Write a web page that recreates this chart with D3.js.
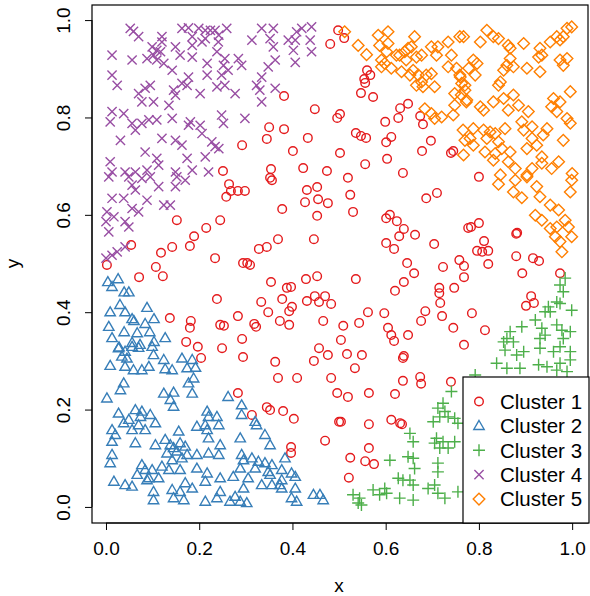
<!DOCTYPE html>
<html>
<head>
<meta charset="utf-8">
<script src="https://cdn.jsdelivr.net/npm/d3@7"></script>
<style>
  body { margin: 0; background: #fff; }
  text { font-family: 'Liberation Sans', Arial, sans-serif; fill: #000; }
</style>
</head>
<body>
<script>
const width = 590
const height = 596

// Datos: [x, y] por cluster
const cluster1 = [[0.498,0.979],[0.481,0.951],[0.382,0.844],[0.448,0.817],[0.502,0.807],[0.496,0.799],[0.350,0.780],[0.382,0.776],[0.345,0.756],[0.433,0.758],
[0.292,0.743],[0.401,0.731],[0.502,0.727],[0.251,0.690],[0.354,0.694],[0.423,0.696],[0.474,0.690],[0.352,0.676],[0.511,0.963],[0.560,0.897],
[0.567,0.887],[0.554,0.879],[0.556,0.871],[0.547,0.850],[0.573,0.842],[0.648,0.828],[0.631,0.819],[0.627,0.799],[0.674,0.803],[0.680,0.786],
[0.599,0.791],[0.536,0.768],[0.547,0.762],[0.558,0.758],[0.612,0.760],[0.601,0.749],[0.697,0.752],[0.678,0.731],[0.740,0.727],[0.745,0.731],
[0.603,0.715],[0.556,0.704],[0.637,0.686],[0.519,0.676],[0.800,0.678],[0.152,0.589],[0.245,0.589],[0.215,0.573],[0.189,0.556],[0.054,0.538],
[0.142,0.534],[0.180,0.536],[0.118,0.522],[0.234,0.511],[0.002,0.497],[0.107,0.493],[0.122,0.474],[0.071,0.472],[0.238,0.427],[0.137,0.388],
[0.182,0.382],[0.180,0.368],[0.245,0.374],[0.172,0.339],[0.197,0.329],[0.356,0.671],[0.264,0.663],[0.268,0.649],[0.258,0.637],[0.283,0.649],
[0.298,0.649],[0.431,0.651],[0.453,0.657],[0.427,0.626],[0.455,0.632],[0.476,0.624],[0.453,0.598],[0.378,0.612],[0.369,0.550],[0.446,0.550],
[0.328,0.530],[0.345,0.534],[0.294,0.501],[0.303,0.501],[0.309,0.497],[0.354,0.462],[0.429,0.468],[0.453,0.474],[0.388,0.450],[0.397,0.452],
[0.333,0.421],[0.378,0.427],[0.431,0.423],[0.448,0.433],[0.457,0.421],[0.470,0.433],[0.483,0.417],[0.348,0.400],[0.393,0.402],[0.399,0.411],
[0.283,0.392],[0.373,0.382],[0.393,0.374],[0.466,0.382],[0.253,0.372],[0.318,0.376],[0.322,0.370],[0.509,0.372],[0.292,0.345],[0.504,0.343],
[0.457,0.326],[0.249,0.326],[0.524,0.641],[0.530,0.606],[0.687,0.634],[0.710,0.645],[0.601,0.593],[0.609,0.600],[0.624,0.587],[0.639,0.571],
[0.629,0.556],[0.663,0.559],[0.601,0.542],[0.618,0.530],[0.704,0.540],[0.777,0.573],[0.646,0.501],[0.661,0.480],[0.723,0.493],[0.758,0.507],
[0.768,0.495],[0.768,0.472],[0.536,0.468],[0.639,0.462],[0.620,0.444],[0.747,0.450],[0.715,0.450],[0.715,0.439],[0.717,0.419],[0.721,0.392],
[0.562,0.400],[0.597,0.398],[0.685,0.402],[0.676,0.382],[0.543,0.378],[0.605,0.368],[0.612,0.353],[0.618,0.341],[0.648,0.353],
[0.745,0.368],[0.768,0.333],[0.783,0.575],[0.800,0.583],[0.882,0.563],[0.880,0.561],[0.811,0.546],[0.796,0.526],[0.807,0.524],[0.820,0.526],
[0.820,0.499],[0.880,0.515],[0.916,0.511],[0.929,0.505],[0.893,0.480],[0.974,0.480],[0.912,0.433],[0.918,0.419],[0.901,0.413],[0.785,0.398],
[0.813,0.363],[0.294,0.308],[0.363,0.298],[0.476,0.312],[0.446,0.300],[0.369,0.265],[0.410,0.265],[0.483,0.265],[0.496,0.234],[0.283,0.234],
[0.345,0.205],[0.352,0.199],[0.380,0.197],[0.313,0.189],[0.403,0.181],[0.500,0.175],[0.470,0.136],[0.397,0.123],[0.397,0.111],[0.517,0.314],
[0.549,0.312],[0.534,0.285],[0.637,0.306],[0.639,0.310],[0.674,0.267],[0.676,0.253],[0.637,0.259],[0.740,0.257],[0.519,0.226],[0.564,0.234],
[0.620,0.232],[0.504,0.175],[0.564,0.170],[0.612,0.179],[0.631,0.172],[0.635,0.170],[0.564,0.121],[0.524,0.101],[0.556,0.094],[0.575,0.088],
[0.521,0.060],[0.204,0.306]]

const cluster2 = [[0.004,0.462],[0.026,0.468],[0.013,0.452],[0.039,0.441],[0.049,0.441],[0.030,0.415],[0.009,0.400],[0.041,0.400],[0.088,0.409],[0.056,0.386],
[0.060,0.382],[0.103,0.386],[0.006,0.370],[0.039,0.359],[0.084,0.376],[0.094,0.359],[0.067,0.357],[0.127,0.347],[0.013,0.347],[0.103,0.339],
[0.056,0.337],[0.028,0.328],[0.073,0.333],[0.027,0.326],[0.041,0.319],[0.056,0.329],[0.070,0.327],[0.099,0.329],[0.102,0.312],[0.034,0.309],
[0.045,0.305],[0.041,0.288],[0.059,0.281],[0.077,0.281],[0.009,0.290],[0.092,0.288],[0.124,0.302],[0.163,0.305],[0.185,0.302],[0.127,0.283],
[0.142,0.281],[0.174,0.285],[0.192,0.286],[0.038,0.254],[0.031,0.240],[0.188,0.264],[0.177,0.254],[0.124,0.233],[0.145,0.235],[0.185,0.233],
[0.138,0.220],[0.145,0.206],[0.002,0.223],[0.027,0.192],[0.063,0.199],[0.077,0.196],[0.095,0.189],[0.074,0.185],[0.049,0.179],[0.038,0.172],
[0.070,0.168],[0.106,0.172],[0.084,0.158],[0.056,0.158],[0.013,0.158],[0.020,0.148],[0.013,0.134],[0.063,0.131],[0.106,0.127],[0.127,0.138],
[0.138,0.127],[0.156,0.155],[0.145,0.121],[0.159,0.131],[0.170,0.124],[0.152,0.114],[0.131,0.110],[0.174,0.107],[0.195,0.107],[0.142,0.096],
[0.163,0.100],[0.217,0.196],[0.220,0.185],[0.238,0.185],[0.217,0.158],[0.220,0.141],[0.213,0.168],[0.195,0.165],[0.242,0.168],[0.220,0.110],
[0.242,0.107],[0.013,0.107],[0.009,0.090],[0.077,0.086],[0.084,0.076],[0.099,0.076],[0.120,0.083],[0.113,0.059],[0.092,0.059],[0.135,0.076],
[0.159,0.076],[0.195,0.079],[0.217,0.069],[0.067,0.066],[0.017,0.052],[0.041,0.045],[0.056,0.042],[0.088,0.055],[0.102,0.031],[0.102,0.014],
[0.142,0.035],[0.159,0.031],[0.145,0.018],[0.167,0.014],[0.185,0.038],[0.170,0.049],[0.213,0.052],[0.213,0.011],[0.245,0.059],[0.245,0.031],
[0.262,0.226],[0.291,0.209],[0.291,0.189],[0.320,0.175],[0.323,0.168],[0.341,0.148],[0.352,0.127],[0.288,0.141],[0.245,0.127],[0.291,0.107],
[0.295,0.096],[0.313,0.100],[0.327,0.093],[0.341,0.090],[0.356,0.086],[0.320,0.079],[0.288,0.079],[0.273,0.062],[0.305,0.059],[0.348,0.072],
[0.352,0.066],[0.377,0.076],[0.377,0.055],[0.398,0.069],[0.406,0.062],[0.384,0.100],[0.356,0.045],[0.334,0.045],[0.295,0.038],[0.277,0.021],
[0.266,0.011],[0.288,0.011],[0.302,0.008],[0.377,0.038],[0.406,0.038],[0.373,0.045],[0.398,0.018],[0.409,0.011],[0.445,0.025],[0.459,0.025],
[0.466,0.014],[0.238,0.018]]

const cluster3 = [[0.985,0.470],[0.974,0.456],[0.981,0.442],[0.967,0.421],[0.974,0.418],[0.949,0.411],[0.942,0.401],[0.953,0.401],[0.999,0.404],[0.921,0.384],
[0.892,0.370],[0.867,0.360],[0.860,0.346],[0.853,0.339],[0.874,0.339],[0.935,0.367],[0.942,0.353],[0.931,0.346],[0.967,0.374],[0.978,0.363],
[0.996,0.360],[0.981,0.346],[0.996,0.319],[0.974,0.329],[0.960,0.319],[0.896,0.319],[0.881,0.312],[0.856,0.322],[0.838,0.295],[0.860,0.285],
[0.888,0.285],[0.928,0.292],[0.946,0.288],[0.974,0.295],[0.967,0.281],[0.996,0.302],[0.989,0.278],[0.931,0.326],[0.792,0.271],
[0.741,0.237],[0.723,0.213],[0.712,0.203],[0.727,0.196],[0.716,0.185],[0.734,0.185],[0.748,0.182],[0.755,0.172],[0.702,0.175],[0.709,0.141],
[0.705,0.131],[0.723,0.134],[0.748,0.134],[0.734,0.121],[0.716,0.121],[0.652,0.151],[0.659,0.134],[0.648,0.103],[0.659,0.100],[0.662,0.079],
[0.712,0.090],[0.712,0.072],[0.705,0.045],[0.691,0.038],[0.712,0.028],[0.727,0.018],[0.755,0.031],[0.652,0.055],[0.659,0.045],[0.637,0.055],
[0.609,0.096],[0.627,0.059],[0.598,0.038],[0.602,0.028],[0.573,0.035],[0.587,0.025],[0.630,0.018],[0.659,0.014],[0.530,0.025],[0.544,0.018],
[0.541,0.008],[0.548,0.004]]

const cluster4 = [[0.052,0.983],[0.059,0.977],[0.070,0.966],[0.120,0.966],[0.163,0.983],[0.177,0.984],[0.199,0.983],[0.213,0.979],[0.224,0.979],[0.242,0.969],
[0.185,0.966],[0.206,0.955],[0.120,0.955],[0.099,0.945],[0.109,0.938],[0.149,0.945],[0.185,0.948],[0.213,0.962],[0.013,0.928],[0.056,0.918],
[0.088,0.921],[0.102,0.928],[0.117,0.935],[0.124,0.911],[0.109,0.918],[0.142,0.897],[0.159,0.928],[0.185,0.924],[0.217,0.911],[0.238,0.935],
[0.013,0.887],[0.024,0.866],[0.084,0.860],[0.070,0.849],[0.095,0.866],[0.077,0.832],[0.102,0.832],[0.145,0.856],[0.163,0.870],[0.174,0.866],
[0.202,0.849],[0.149,0.846],[0.135,0.825],[0.177,0.883],[0.238,0.863],[0.217,0.887],[0.013,0.812],[0.038,0.808],[0.009,0.791],[0.056,0.788],
[0.063,0.774],[0.077,0.788],[0.092,0.795],[0.109,0.795],[0.142,0.798],[0.181,0.791],[0.202,0.784],[0.206,0.767],[0.227,0.750],[0.242,0.736],
[0.177,0.784],[0.031,0.753],[0.120,0.757],[0.149,0.753],[0.163,0.743],[0.084,0.729],[0.109,0.716],[0.174,0.716],[0.213,0.719],[0.009,0.709],
[0.013,0.688],[0.041,0.688],[0.063,0.688],[0.088,0.692],[0.113,0.702],[0.149,0.688],[0.185,0.692],[0.220,0.688],
[0.234,0.979],[0.259,0.983],[0.241,0.955],[0.334,0.983],[0.359,0.983],[0.352,0.962],[0.313,0.959],[0.359,0.945],[0.391,0.959],[0.409,0.976],
[0.420,0.983],[0.441,0.986],[0.406,0.959],[0.402,0.938],[0.438,0.959],[0.441,0.935],[0.255,0.921],[0.252,0.907],[0.262,0.897],[0.284,0.921],
[0.291,0.907],[0.248,0.887],[0.348,0.904],[0.363,0.918],[0.334,0.883],[0.323,0.866],[0.330,0.856],[0.255,0.866],[0.277,0.849],[0.334,0.832],
[0.363,0.860],[0.406,0.913],[0.248,0.805],[0.252,0.788],[0.298,0.798],[0.234,0.740],
[0.006,0.678],[0.049,0.678],[0.077,0.675],[0.095,0.678],[0.152,0.678],[0.170,0.671],[0.056,0.661],[0.063,0.651],[0.113,0.658],[0.149,0.658],
[0.013,0.634],[0.038,0.634],[0.088,0.630],[0.056,0.613],[0.070,0.606],[0.002,0.606],[0.017,0.596],[0.000,0.586],[0.041,0.586],[0.049,0.575],
[0.006,0.565],[0.138,0.620],[0.124,0.620],[0.024,0.524],[0.041,0.534],[0.000,0.511],[0.013,0.517]]

const cluster5 = [[0.512,0.976],[0.541,0.948],[0.559,0.929],[0.584,0.969],[0.605,0.976],[0.587,0.948],[0.605,0.952],[0.623,0.928],[0.591,0.918],[0.591,0.904],
[0.598,0.911],[0.612,0.901],[0.641,0.935],[0.648,0.942],[0.662,0.966],[0.655,0.945],[0.666,0.924],[0.644,0.918],[0.634,0.894],[0.652,0.887],
[0.659,0.897],[0.670,0.887],[0.687,0.887],[0.698,0.890],[0.677,0.873],[0.666,0.866],[0.680,0.863],[0.705,0.863],[0.698,0.945],[0.712,0.945],
[0.709,0.928],[0.734,0.955],[0.741,0.928],[0.759,0.966],[0.734,0.904],[0.752,0.901],[0.759,0.887],[0.770,0.866],[0.748,0.849],[0.762,0.846],
[0.748,0.825],[0.773,0.832],[0.684,0.818],[0.698,0.808],[0.720,0.801],[0.705,0.798],[0.745,0.805],[0.766,0.774],[0.770,0.753],[0.677,0.928],
[0.630,0.928],[0.602,0.935],
[0.817,0.979],[0.831,0.966],[0.842,0.962],[0.803,0.955],[0.767,0.966],[0.863,0.948],[0.867,0.942],[0.896,0.952],[0.931,0.942],[0.953,0.955],
[0.967,0.966],[0.981,0.966],[0.989,0.983],[0.999,0.986],[0.974,0.959],[0.935,0.928],[0.928,0.924],[0.989,0.921],[0.974,0.918],[0.981,0.907],
[0.867,0.921],[0.860,0.907],[0.853,0.897],[0.874,0.904],[0.903,0.901],[0.931,0.894],[0.788,0.918],[0.796,0.911],[0.778,0.901],[0.792,0.887],
[0.760,0.883],[0.763,0.870],[0.770,0.856],[0.774,0.836],[0.846,0.873],[0.842,0.866],[0.831,0.832],[0.853,0.839],[0.874,0.846],[0.885,0.825],
[0.906,0.812],[0.863,0.815],[0.810,0.815],[0.803,0.822],[0.960,0.839],[0.974,0.832],[0.956,0.822],[0.967,0.812],[0.996,0.853],[0.989,0.798],
[0.996,0.788],[0.981,0.753],[0.788,0.777],[0.810,0.774],[0.824,0.770],[0.835,0.767],[0.817,0.757],[0.856,0.777],[0.842,0.750],[0.849,0.736],
[0.892,0.791],[0.896,0.774],[0.914,0.781],[0.946,0.777],[0.938,0.764],[0.914,0.757],[0.924,0.743],[0.903,0.736],[0.867,0.729],[0.835,0.726],
[0.813,0.729],[0.788,0.743],[0.831,0.712],[0.863,0.709],[0.878,0.695],[0.914,0.695],[0.935,0.719],[0.935,0.706],[0.956,0.695],
[0.971,0.709],[1.000,0.685],[0.767,0.723],[0.903,0.682],[0.846,0.682],[0.781,0.757],
[0.842,0.663],[0.874,0.647],[0.892,0.635],[0.878,0.671],[0.903,0.678],[0.924,0.658],[0.931,0.637],[0.999,0.671],[0.996,0.647],[0.921,0.599],
[0.935,0.589],[0.953,0.620],[0.971,0.610],[0.985,0.589],[0.992,0.575],[0.953,0.572],[0.964,0.555],[0.974,0.545],[0.978,0.524],[0.999,0.555],
[0.967,0.575]]

const clusters = ['Cluster 1', 'Cluster 2', 'Cluster 3', 'Cluster 4', 'Cluster 5']
const ticks = [0, 0.2, 0.4, 0.6, 0.8, 1.0]

// colores tipo Set1
const color = d3.scaleOrdinal()
  .domain(clusters)
  .range(['#E41A1C', '#377EB8', '#4DAF4A', '#984EA3', '#FF7F00'])

// forma de cada simbolo (pch 1, 2, 3, 4, 5)
const shape = d3.scaleOrdinal()
  .domain(clusters)
  .range([
    'M4.3,0A4.3,4.3 0 1,1 -4.3,0A4.3,4.3 0 1,1 4.3,0Z',
    'M0,-5.4L5.2,3.6L-5.2,3.6Z',
    'M-6,0H6M0,-6V6',
    'M-4.6,-4.6L4.6,4.6M-4.6,4.6L4.6,-4.6',
    'M0,-5.8L5.8,0L0,5.8L-5.8,0Z'
  ])

// caja del grafico
const box = { left: 92, right: 588, top: 5, bottom: 523 }

const x = d3.scaleLinear().domain([-0.030, 1.034]).range([box.left, box.right])
const y = d3.scaleLinear().domain([-0.033, 1.031]).range([box.bottom, box.top])

const datos = [cluster1, cluster2, cluster3, cluster4, cluster5]
  .flatMap((pts, i) => pts.map(p => ({ x: p[0], y: p[1], cluster: clusters[i] })))

const svg = d3.select('body').append('svg')
  .attr('width', width)
  .attr('height', height)

svg.append('rect').attr('width', width).attr('height', height).attr('fill', '#fff')

// puntos
svg.append('g')
  .selectAll('path.punto')
  .data(datos)
  .join('path')
  .attr('class', 'punto')
  .attr('transform', d => `translate(${x(d.x)},${y(d.y)})`)
  .attr('d', d => shape(d.cluster))
  .attr('fill', 'none')
  .attr('stroke', d => color(d.cluster))
  .attr('stroke-width', 1.4)

// caja
svg.append('rect')
  .attr('x', box.left).attr('y', box.top)
  .attr('width', box.right - box.left).attr('height', box.bottom - box.top)
  .attr('fill', 'none').attr('stroke', '#000').attr('stroke-width', 1.2)

// eje x
const ejeX = svg.append('g')
  .attr('transform', `translate(0,${box.bottom})`)
  .call(d3.axisBottom(x).tickValues(ticks).tickFormat(d3.format('.1f')).tickSize(7).tickPadding(12))
ejeX.select('.domain').remove()
ejeX.append('line').attr('x1', x(0)).attr('x2', x(1)).attr('stroke', '#000')
ejeX.selectAll('text').attr('font-size', 19).attr('font-family', "'Liberation Sans', Arial, sans-serif").attr('fill', '#000')

// eje y
const ejeY = svg.append('g')
  .attr('transform', `translate(${box.left},0)`)
  .call(d3.axisLeft(y).tickValues(ticks).tickFormat(d3.format('.1f')).tickSize(7))
ejeY.select('.domain').remove()
ejeY.append('line').attr('y1', y(0)).attr('y2', y(1)).attr('stroke', '#000')
ejeY.selectAll('text')
  .attr('x', null).attr('dy', null)
  .attr('text-anchor', 'middle')
  .attr('transform', 'translate(-22,0) rotate(-90)')
  .attr('font-size', 19).attr('font-family', "'Liberation Sans', Arial, sans-serif").attr('fill', '#000')

// titulos de ejes
svg.append('text').attr('x', (x(0) + x(1)) / 2).attr('y', 592)
  .attr('text-anchor', 'middle').attr('font-size', 19).text('x')
svg.append('text').attr('transform', `translate(19,${(y(0) + y(1)) / 2}) rotate(-90)`)
  .attr('text-anchor', 'middle').attr('font-size', 19).text('y')

// leyenda
const leyenda = svg.append('g')
leyenda.append('rect')
  .attr('x', 463).attr('y', 377).attr('width', 126).attr('height', box.bottom - 377)
  .attr('fill', '#fff').attr('stroke', '#000').attr('stroke-width', 1.2)

const items = leyenda.selectAll('g.item')
  .data(clusters)
  .join('g')
  .attr('class', 'item')
  .attr('transform', (d, i) => `translate(479,${401.5 + i * 24.4})`)

items.append('path')
  .attr('d', d => shape(d))
  .attr('fill', 'none')
  .attr('stroke', d => color(d))
  .attr('stroke-width', 1.4)

items.append('text')
  .attr('x', 21).attr('dy', '0.36em')
  .attr('font-size', 20.5)
  .text(d => d)
</script>
</body>
</html>
